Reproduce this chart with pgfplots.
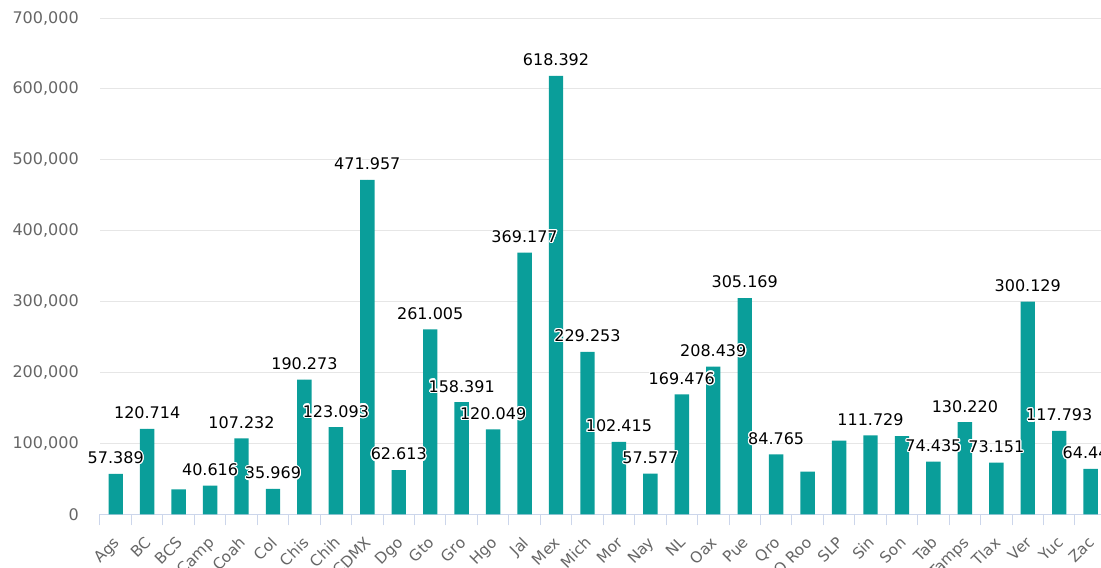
\documentclass[border=0pt]{standalone}
\usepackage{fontspec}
\setmainfont{DejaVu Sans}
\usepackage{pgfplots}
\usepackage{pgfplotstable}
\pgfplotsset{compat=1.18}
\usepackage{contour}
\contourlength{0.9pt}
\definecolor{barc}{RGB}{10,158,154}
\definecolor{tickc}{RGB}{102,102,102}
\definecolor{gridc}{RGB}{230,230,230}
\definecolor{axisc}{RGB}{204,214,235}

\pgfplotstableread{
x y
0 57389
1 120714
2 35500
3 40616
4 107232
5 35969
6 190273
7 123093
8 471957
9 62613
10 261005
11 158391
12 120049
13 369177
14 618392
15 229253
16 102415
17 57577
18 169476
19 208439
20 305169
21 84765
22 60500
23 104000
24 111729
25 110500
26 74435
27 130220
28 73151
29 300129
30 117793
31 64447
}\data

\begin{document}
\begin{tikzpicture}
\useasboundingbox (0pt,0pt) rectangle (825.75pt,426pt);
\clip (0pt,0pt) rectangle (825.75pt,426pt);
\begin{axis}[
  at={(75pt,40.125pt)}, anchor=south west,
  scale only axis, width=754.8pt, height=372.375pt,
  xmin=-0.5, xmax=31.5, ymin=0, ymax=700000,
  clip=false,
  axis x line*=bottom, axis y line*=left,
  x axis line style={draw=axisc, line width=0.75pt},
  y axis line style={draw=none},
  ytick={0,100000,200000,300000,400000,500000,600000,700000},
  scaled y ticks=false,
  ymajorgrids, major grid style={draw=gridc, line width=0.75pt},
  yticklabel={\pgfmathprintnumber[fixed, precision=0, 1000 sep={,}, assume math mode=true]{\tick}},
  yticklabel style={anchor=east, inner sep=0pt, xshift=-15.75pt, text=tickc, font=\fontsize{12}{14}\selectfont},
  xtick={0,...,31},
  xticklabels={Ags,BC,BCS,Camp,Coah,Col,Chis,Chih,CDMX,Dgo,Gto,Gro,Hgo,Jal,Mex,Mich,Mor,Nay,NL,Oax,Pue,Qro,Q Roo,SLP,Sin,Son,Tab,Tamps,Tlax,Ver,Yuc,Zac},
  xticklabel style={xshift=-2.25pt, yshift=-15.75pt, rotate=45, anchor=north east, inner sep=0pt, text=tickc, font=\fontsize{11.5}{13}\selectfont},
  major tick length=0pt,
  minor xtick={-0.5,0.5,...,31.5},
  minor tick length=8.25pt,
  tick align=outside,
  minor tick style={draw=axisc, line width=0.75pt},
]
\addplot[ybar, bar width=10.8pt, fill=barc, draw=none] table[x=x,y=y]{\data};
\addplot[only marks, mark=*, mark size=0pt, mark options={draw=none,fill=none},
  point meta=explicit symbolic,
  nodes near coords={\contour{white}{\pgfplotspointmeta}},
  every node near coord/.append style={anchor=base, yshift=7.6pt, inner sep=0pt, text=black, font=\fontsize{12}{14}\selectfont}]
coordinates {
(0,57389) [57.389]
(1,120714) [120.714]
(3,40616) [40.616]
(4,107232) [107.232]
(5,35969) [35.969]
(6,190273) [190.273]
(7,123093) [123.093]
(8,471957) [471.957]
(9,62613) [62.613]
(10,261005) [261.005]
(11,158391) [158.391]
(12,120049) [120.049]
(13,369177) [369.177]
(14,618392) [618.392]
(15,229253) [229.253]
(16,102415) [102.415]
(17,57577) [57.577]
(18,169476) [169.476]
(19,208439) [208.439]
(20,305169) [305.169]
(21,84765) [84.765]
(24,111729) [111.729]
(26,74435) [74.435]
(27,130220) [130.220]
(28,73151) [73.151]
(29,300129) [300.129]
(30,117793) [117.793]
(31,64447) [64.447]
};
\end{axis}
\end{tikzpicture}
\end{document}
